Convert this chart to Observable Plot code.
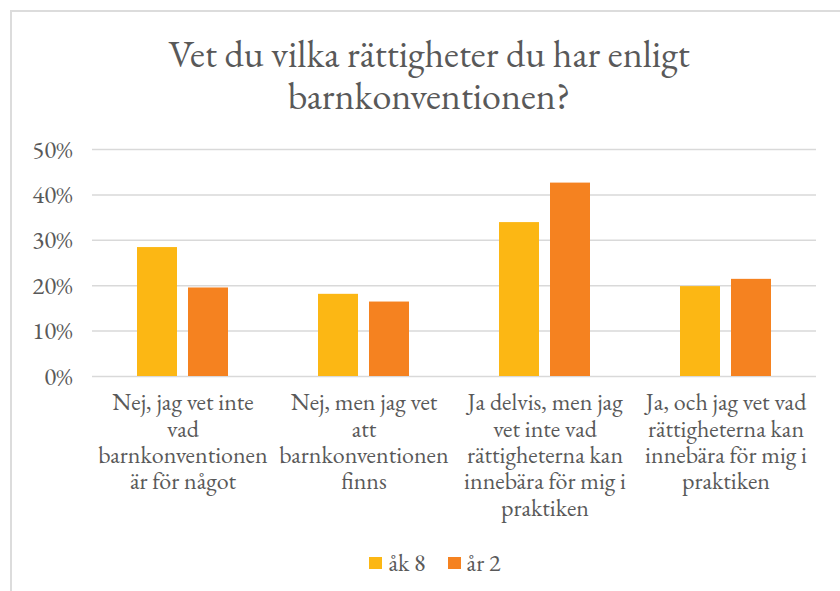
<!DOCTYPE html>
<html><head><meta charset="utf-8">
<script src="https://cdn.jsdelivr.net/npm/d3@7"></script>
<script src="https://cdn.jsdelivr.net/npm/@observablehq/plot@0.6"></script>
<style>
body{margin:0;background:#fff;color:#595959;width:840px;height:591px;overflow:hidden;position:relative}
#frame{position:absolute;left:10px;top:10px;width:840px;height:600px;border:2px solid #DCDCDC;box-sizing:border-box}
#title{position:absolute;left:11px;width:836px;top:33px;text-align:center;font-size:38px;line-height:42px}
#chart{position:absolute;left:0;top:120px}
#legend{position:absolute;left:17px;width:836px;top:550px;display:flex;justify-content:center;gap:22px;font-size:24px;line-height:26px}
#legend span.item{display:flex;align-items:center;gap:6px}
#legend span.sw{display:inline-block;width:13px;height:12px}
</style></head>
<body style="font-family:'EB Garamond','Liberation Serif',serif">
<div id="frame"></div>
<div id="title" style="font-family:'EB Garamond','Liberation Serif',serif">Vet du vilka rättigheter du har enligt<br>barnkonventionen?</div>
<div id="chart"></div>
<div id="legend" style="font-family:'EB Garamond','Liberation Serif',serif"></div>
<script>
const categories = [
  "Nej, jag vet inte vad barnkonventionen är för något",
  "Nej, men jag vet att barnkonventionen finns",
  "Ja delvis, men jag vet inte vad rättigheterna kan innebära för mig i praktiken",
  "Ja, och jag vet vad rättigheterna kan innebära för mig i praktiken"
];
const categoryLabels = [
  "Nej, jag vet inte\nvad\nbarnkonventionen\när för något",
  "Nej, men jag vet\natt\nbarnkonventionen\nfinns",
  "Ja delvis, men jag\nvet inte vad\nrättigheterna kan\ninnebära för mig i\npraktiken",
  "Ja, och jag vet vad\nrättigheterna kan\ninnebära för mig i\npraktiken"
];
const series = ["åk 8", "år 2"];
const colors = ["#FCB714", "#F58220"];
const ak8 = [28.4, 18.1, 33.9, 19.8];
const ar2 = [19.5, 16.4, 42.6, 21.4];
const yTicks = [0, 10, 20, 30, 40, 50];
const FONT = "'EB Garamond', 'Liberation Serif', serif";

const data = categories.flatMap((c, i) => [
  {cat: c, series: series[0], value: ak8[i]},
  {cat: c, series: series[1], value: ar2[i]}
]);
const fmtFx = d => categoryLabels[categories.indexOf(d)];

const plot = Plot.plot({
  width: 840, height: 420,
  marginLeft: 91, marginRight: 24, marginTop: 29, marginBottom: 164,
  style: {fontFamily: FONT, fontSize: "24px", color: "#595959", background: "transparent"},
  fx: {domain: categories, padding: 0, label: null},
  x: {domain: series, paddingInner: 0.21, paddingOuter: 0.85, axis: null},
  y: {domain: [0, 50], label: null},
  color: {domain: series, range: colors},
  marks: [
    Plot.gridY(yTicks, {stroke: "#D9D9D9", strokeOpacity: 1, strokeWidth: 1.5}),
    Plot.axisY(yTicks, {tickSize: 0, tickPadding: 20, tickFormat: d => d + "%", fontSize: 25, label: null, fill: "#595959"}),
    Plot.axisFx({anchor: "bottom", tickSize: 0, tickPadding: 15, lineHeight: 1.1, label: null, tickFormat: fmtFx, fontSize: 24, fill: "#595959"}),
    Plot.barY(data, {fx: "cat", x: "series", y: "value", fill: "series"})
  ]
});
plot.style.fontFamily = FONT;
document.getElementById("chart").appendChild(plot);

const legend = document.getElementById("legend");
series.forEach((s, i) => {
  const item = document.createElement("span");
  item.className = "item";
  const sw = document.createElement("span");
  sw.className = "sw";
  sw.style.background = colors[i];
  item.appendChild(sw);
  item.appendChild(document.createTextNode(s));
  legend.appendChild(item);
});
</script>
</body></html>
